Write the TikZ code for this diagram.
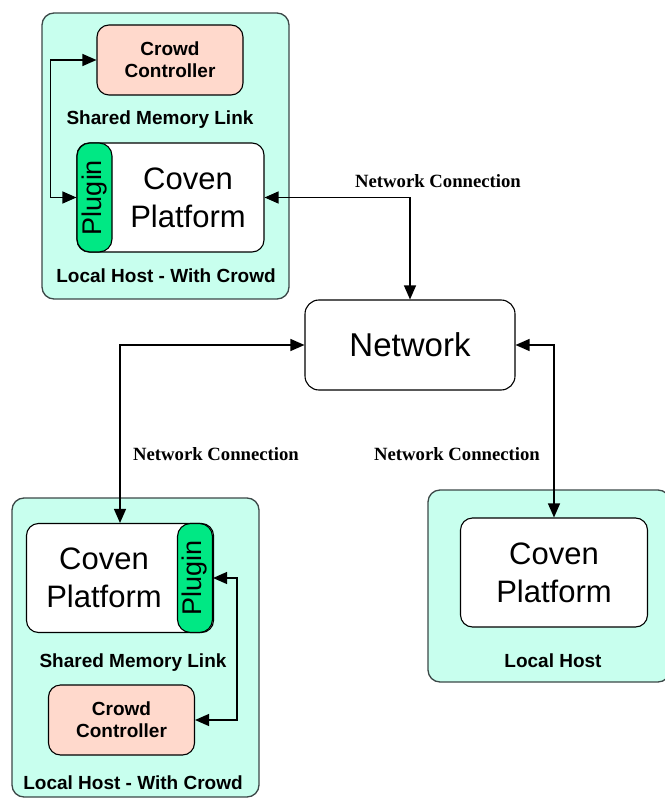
\documentclass[tikz,border=0pt]{standalone}
\usepackage{fontspec}
\usepackage{graphicx}
\setmainfont{Liberation Serif}
\setsansfont{Liberation Sans}
\usetikzlibrary{arrows.meta}
\definecolor{hostfill}{RGB}{200,255,238}
\definecolor{hostline}{RGB}{60,72,72}
\definecolor{crowdfill}{RGB}{255,217,204}
\definecolor{pluginfill}{RGB}{0,232,132}
\begin{document}
\begin{tikzpicture}[
		x=1pt, y=-1pt,
		host/.style={draw=hostline, fill=hostfill, line width=1.3pt, rounded corners=12pt, inner sep=0pt},
		crowd/.style={draw, fill=crowdfill, line width=1.1pt, rounded corners=12pt, minimum width=146pt, minimum height=70pt, inner sep=0pt, align=center, font=\sffamily\bfseries\fontsize{19}{22}\selectfont},
		platform/.style={draw, fill=white, line width=1.1pt, rounded corners=12pt, minimum width=187pt, minimum height=109pt, inner sep=0pt},
		plugin/.style={draw, fill=pluginfill, line width=1.1pt, rounded corners=13pt, minimum width=35pt, minimum height=109pt, inner sep=0pt, font=\sffamily\fontsize{27}{30}\selectfont},
		bigtext/.style={align=center, font=\sffamily\fontsize{31}{38}\selectfont},
		boldtext/.style={font=\sffamily\bfseries\fontsize{19}{22}\selectfont},
		nettext/.style={font=\rmfamily\bfseries\fontsize{18.7}{22}\selectfont},
		link/.style={{Triangle[length=14pt,width=12pt]}-{Triangle[length=14pt,width=12pt]}, line width=1.2pt}
	]
	\useasboundingbox (0,0) rectangle (664,799);

	% host with crowd, top
	\node[host, minimum width=247pt, minimum height=286pt] (hostA) at (165.5,156) {};
	\node[crowd] (ccA) at (170,60) {Crowd\\Controller};
	\node[boldtext] (shmA) at (160,120) {Shared Memory Link};
	\node[platform] (covenA) at (170.5,197.5) {};
	\node[bigtext] (covenAtxt) at (188,197.5) {Coven\\Platform};
	\node[plugin] (plugA) at (94.5,197.5) {\rotatebox{90}{Plugin}};
	\node[boldtext] (lhA) at (166,276) {Local Host - With Crowd};
	\draw[link] (ccA.west) -- ++(-46,0) |- (plugA.west);

	% host with crowd, bottom
	\node[host, minimum width=247pt, minimum height=299pt] (hostB) at (135.5,647.5) {};
	\node[platform] (covenB) at (120,578) {};
	\node[bigtext] (covenBtxt) at (104,578) {Coven\\Platform};
	\node[plugin] (plugB) at (195,578) {\rotatebox{90}{Plugin}};
	\node[boldtext] (shmB) at (133,663) {Shared Memory Link};
	\node[crowd] (ccB) at (121.5,720) {Crowd\\Controller};
	\node[boldtext] (lhB) at (133,783) {Local Host - With Crowd};
	\draw[link] (plugB.east) -- ++(24,0) |- (ccB.east);

	% plain host
	\node[host, minimum width=242pt, minimum height=192pt] (hostC) at (549,586) {};
	\node[platform] (covenC) at (554,572.5) {};
	\node[bigtext] (covenCtxt) at (554,572.5) {Coven\\Platform};
	\node[boldtext] (lhC) at (553,661) {Local Host};

	% network
	\node[draw, fill=white, line width=1.1pt, rounded corners=14pt, minimum width=210pt, minimum height=90pt, font=\sffamily\fontsize{33}{36}\selectfont] (net) at (410,345) {Network};
	\node[nettext] (ncA) at (438,181) {Network Connection};
	\node[nettext] (ncB) at (216,454) {Network Connection};
	\node[nettext] (ncC) at (457,454) {Network Connection};
	\draw[link] (covenA.east) -| (net.north);
	\draw[link] (net.west) -| (covenB.north);
	\draw[link] (net.east) -| (covenC.north);
\end{tikzpicture}
\end{document}
